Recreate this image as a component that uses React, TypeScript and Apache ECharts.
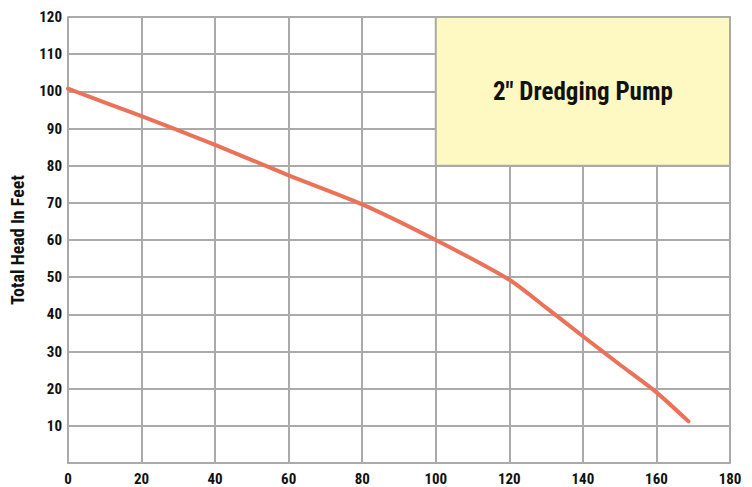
import React, { useEffect, useRef } from "react";
import * as echarts from "echarts";

const flowValues = [0, 20, 40, 60, 80, 100, 120, 130, 140, 150, 160, 168.7];
const headValues = [100.7, 93.3, 85.6, 77.4, 69.6, 60, 49.3, 41.8, 34.1, 26.5, 19, 11.2];
const boxRange = { x: [100, 180], y: [80, 120] };
const boxTitle = '2" Dredging Pump';
const yAxisTitle = "Total Head In Feet";

const FONT = '"Liberation Sans Narrow", "Arial Narrow", "Roboto Condensed", "Liberation Sans", sans-serif';

export default function App() {
  const ref = useRef<HTMLDivElement>(null);
  useEffect(() => {
    const chart = echarts.init(ref.current!, undefined, { renderer: "svg" });
    chart.setOption({
      animation: false,
      grid: { left: 66, top: 17, right: 22, bottom: 24 },
      xAxis: {
        type: "value",
        min: 0,
        max: 180,
        interval: 20,
        axisLine: { show: true, lineStyle: { color: "#aaaaaa", width: 2 } },
        axisTick: { show: false },
        splitLine: { show: true, lineStyle: { color: "#aaaaaa", width: 2 } },
        axisLabel: { color: "#111", fontFamily: FONT, fontWeight: "bold", fontSize: 15, margin: 8 },
      },
      yAxis: {
        type: "value",
        min: 0,
        max: 120,
        interval: 10,
        name: yAxisTitle,
        nameLocation: "middle",
        nameGap: 42,
        nameTextStyle: { color: "#111", fontFamily: FONT, fontWeight: "bold", fontSize: 18 },
        axisLine: { show: true, lineStyle: { color: "#aaaaaa", width: 2 } },
        axisTick: { show: false },
        splitLine: { show: true, lineStyle: { color: "#aaaaaa", width: 2 } },
        axisLabel: {
          color: "#111",
          fontFamily: FONT,
          fontWeight: "bold",
          fontSize: 15,
          margin: 6,
          formatter: (v: number) => (v === 0 ? "" : String(v)),
        },
      },
      series: [
        {
          type: "line",
          data: flowValues.map((x, i) => [x, headValues[i]]),
          smooth: 0.25,
          showSymbol: false,
          lineStyle: { color: "#ea7259", width: 4, cap: "round" },
          markArea: {
            silent: true,
            itemStyle: { color: "#fef8c2", borderColor: "#aaaaaa", borderWidth: 2 },
            label: {
              show: true,
              position: "inside",
              formatter: boxTitle,
              color: "#111",
              fontFamily: FONT,
              fontWeight: "bold",
              fontSize: 25,
            },
            data: [[{ coord: [boxRange.x[0], boxRange.y[0]] }, { coord: [boxRange.x[1], boxRange.y[1]] }]],
          },
        },
      ],
    });
    return () => chart.dispose();
  }, []);
  return <div ref={ref} style={{ width: 752, height: 487, position: "absolute", left: 0, top: 0, background: "#fff" }} />;
}
